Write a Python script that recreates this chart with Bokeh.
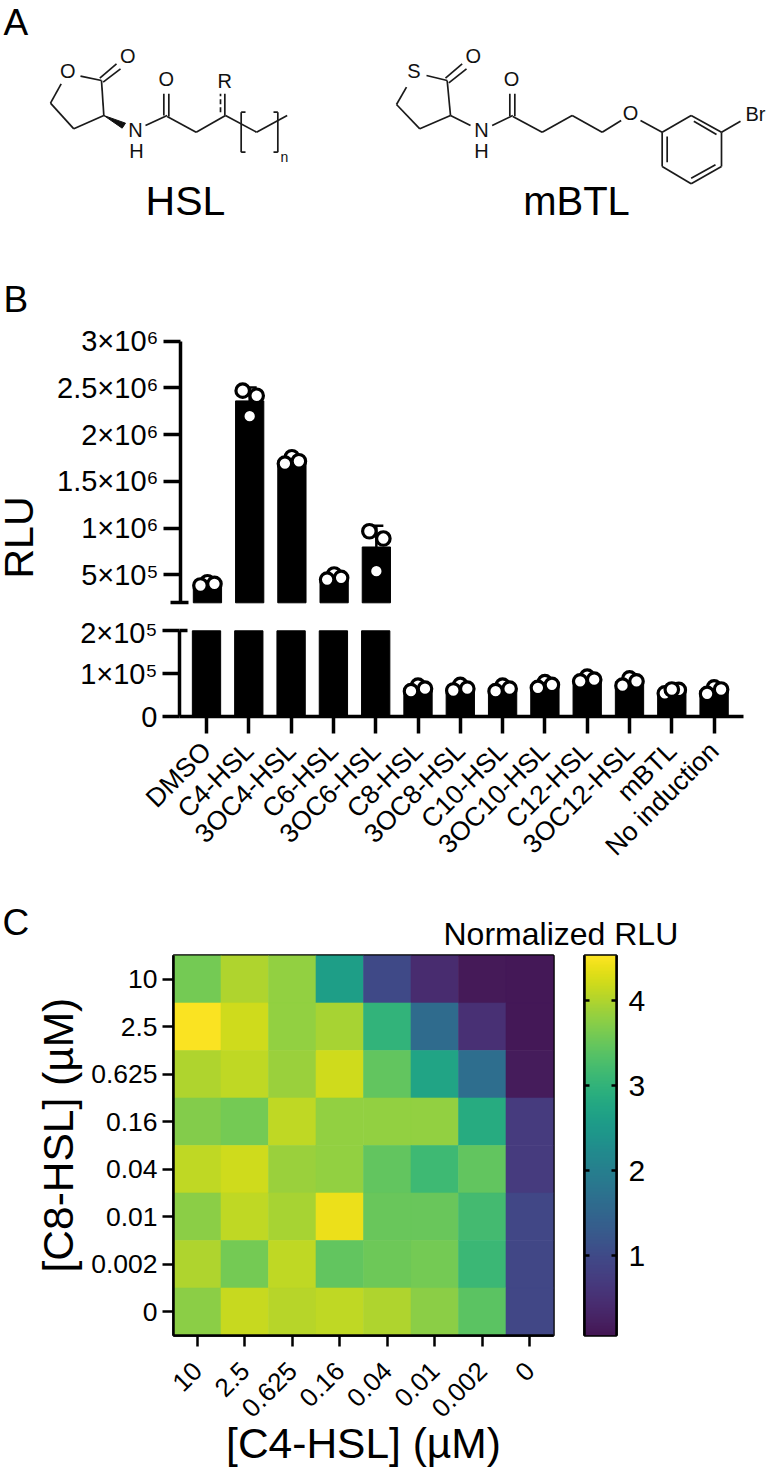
import numpy as np
from bokeh.plotting import figure
from bokeh.layouts import column, row
from bokeh.models import (Range1d, Label, LinearAxis, FixedTicker, LinearColorMapper,
                          ColumnDataSource, Title)
from bokeh.transform import transform
from bokeh.palettes import Viridis256
from bokeh.embed import file_html
from bokeh.resources import INLINE

FONT = "Liberation Sans"

# ---------- data ----------
inducers = ["DMSO", "C4-HSL", "3OC4-HSL", "C6-HSL", "3OC6-HSL", "C8-HSL", "3OC8-HSL",
            "C10-HSL", "3OC10-HSL", "C12-HSL", "3OC12-HSL", "mBTL", "No induction"]
rep_left = [3.85e5, 2.47e6, 1.69e6, 4.49e5, 9.66e5, 5.9e4, 6.07e4, 5.9e4, 6.7e4, 8.2e4, 7.2e4, 5.4e4, 5.3e4]
rep_mid = [4.2e5, 2.197e6, 1.758e6, 5.03e5, 5.38e5, 7.2e4, 7.4e4, 7.2e4, 8.0e4, 9.3e4, 8.9e4, 6.3e4, 6.8e4]
rep_right = [4.03e5, 2.416e6, 1.715e6, 4.67e5, 8.88e5, 6.5e4, 6.5e4, 6.5e4, 7.4e4, 8.6e4, 8.2e4, 6.2e4, 6.3e4]
upper_ticks = [500000, 1000000, 1500000, 2000000, 2500000, 3000000]
upper_tick_labels = ["5×10⁵", "1×10⁶", "1.5×10⁶", "2×10⁶", "2.5×10⁶", "3×10⁶"]
lower_ticks = [0, 100000, 200000]
lower_tick_labels = ["0", "1×10⁵", "2×10⁵"]
break_low = 200000

conc_c4 = ["10", "2.5", "0.625", "0.16", "0.04", "0.01", "0.002", "0"]
conc_c8 = ["10", "2.5", "0.625", "0.16", "0.04", "0.01", "0.002", "0"]
row_10 = [3.60, 4.00, 3.80, 2.60, 1.00, 0.42, 0.12, 0.10]
row_2p5 = [4.50, 4.20, 3.80, 3.95, 3.00, 1.60, 0.50, 0.10]
row_0p625 = [4.00, 4.10, 3.85, 4.20, 3.45, 2.70, 1.65, 0.15]
row_0p16 = [3.70, 3.60, 4.10, 3.80, 3.80, 3.80, 2.85, 0.70]
row_0p04 = [4.10, 4.20, 3.85, 3.80, 3.45, 3.15, 3.45, 0.70]
row_0p01 = [3.75, 4.10, 3.95, 4.40, 3.50, 3.50, 3.20, 0.95]
row_0p002 = [4.00, 3.60, 4.10, 3.45, 3.55, 3.60, 3.10, 0.95]
row_0 = [3.75, 4.15, 4.05, 4.10, 4.00, 3.75, 3.40, 0.95]
heat_rows = [row_10, row_2p5, row_0p625, row_0p16, row_0p04, row_0p01, row_0p002, row_0]
cbar_low, cbar_high = 0.06, 4.53
cbar_ticks = [1, 2, 3, 4]
cbar_tick_labels = ["1", "2", "3", "4"]

W = 770


def clean(p):
    p.grid.visible = False
    p.outline_line_color = None
    p.background_fill_color = None
    p.border_fill_color = None
    p.frame_align = False


def letter(text, x, y, size, **kw):
    kw.setdefault("text_baseline", "middle")
    return Label(x=x, y=y, text=text, text_font=FONT, text_font_size=size, text_color="black", **kw)


# ---------- panel A: structures (page pixels); also carries the letter B ----------
pa = figure(width=W, height=320, x_range=Range1d(0, 770), y_range=Range1d(320, 0),
            x_axis_type=None, y_axis_type=None, toolbar_location=None, output_backend="svg",
            min_border=0)
clean(pa)


def bonds(ox, oy, segs):
    return ([[ox + s[0] / 3, ox + s[2] / 3] for s in segs],
            [[oy + s[1] / 3, oy + s[3] / 3] for s in segs])


hsl_bonds = [
    (213, 150, 150, 137), (92, 160, 60, 218), (60, 218, 130, 295), (130, 295, 220, 255), (220, 255, 213, 150),
    (208, 143, 258, 100), (218, 155, 270, 115),
    (345, 285, 410, 255), (400, 255, 400, 190), (415, 258, 415, 190),
    (410, 258, 497, 305), (497, 305, 585, 255), (585, 255, 678, 305), (678, 305, 770, 255),
    (583, 255, 583, 190),
    (632, 245, 632, 365), (632, 245, 645, 245), (632, 365, 645, 365),
    (742, 245, 742, 365), (742, 245, 729, 245), (742, 365, 729, 365),
]
xs, ys = bonds(30, 30, hsl_bonds)
pa.multi_line(xs, ys, line_color="#1a1a1a", line_width=1.7)
xs, ys = bonds(30, 30, [(570, 245, 570, 190)])
pa.multi_line(xs, ys, line_color="#1a1a1a", line_width=1.7, line_dash="5 3")
pa.patch([30 + 220 / 3, 30 + 275 / 3, 30 + 285 / 3], [30 + 255 / 3, 30 + 293 / 3, 30 + 278 / 3], color="#111111")

mbtl_bonds = [
    (200, 150, 138, 135), (78, 170, 48, 222), (48, 222, 118, 295), (118, 295, 210, 255), (210, 255, 200, 150),
    (195, 143, 245, 100), (205, 157, 258, 115),
    (210, 255, 270, 285), (335, 285, 397, 255), (388, 257, 388, 190), (403, 257, 403, 190),
    (397, 258, 485, 305), (485, 305, 575, 255), (575, 255, 665, 305), (665, 305, 722, 270),
    (780, 270, 845, 305),
    (845, 305, 932, 255), (932, 255, 1023, 305), (1023, 305, 1023, 408), (1023, 408, 932, 460),
    (932, 460, 845, 408), (845, 408, 845, 305),
    (860, 318, 860, 395), (940, 272, 1008, 312), (932, 443, 1005, 403),
    (1023, 305, 1080, 272),
]
xs, ys = bonds(380, 30, mbtl_bonds)
pa.multi_line(xs, ys, line_color="#1a1a1a", line_width=1.7)

atoms = [("O", 30 + 112 / 3, 30 + 122 / 3, 20), ("O", 30 + 292 / 3, 30 + 75 / 3, 20), ("N", 30 + 315 / 3, 30 + 298 / 3, 20),
         ("H", 30 + 318 / 3, 30 + 360 / 3, 20), ("O", 30 + 407 / 3, 30 + 145 / 3, 20), ("R", 30 + 583 / 3, 30 + 150 / 3, 20),
         ("n", 30 + 762 / 3, 30 + 378 / 3, 14),
         ("S", 380 + 100 / 3, 30 + 122 / 3, 20), ("O", 380 + 278 / 3, 30 + 75 / 3, 20), ("N", 380 + 303 / 3, 30 + 298 / 3, 20),
         ("H", 380 + 303 / 3, 30 + 360 / 3, 20), ("O", 380 + 393 / 3, 30 + 145 / 3, 20), ("O", 380 + 750 / 3, 30 + 247 / 3, 20),
         ("Br", 380 + 1125 / 3, 30 + 250 / 3, 20)]
for t_, x, y, s in atoms:
    pa.add_layout(Label(x=x, y=y, text=t_, text_font=FONT, text_font_size=f"{s}px", text_color="#111111",
                        text_align="center", text_baseline="middle"))
pa.add_layout(letter("HSL", 185, 200, "41px", text_align="center"))
pa.add_layout(letter("mBTL", 576, 200, "40px", text_align="center"))
pa.add_layout(letter("A", 3, 22, "37px"))
pa.add_layout(letter("B", 3, 299, "37px"))

# ---------- panel B: broken axis bar chart ----------
n = len(inducers)
idx = np.arange(n)
left, mid, right = np.array(rep_left), np.array(rep_mid), np.array(rep_right)
reps = np.vstack([left, mid, right])
means = reps.mean(axis=0)
sds = reps.std(axis=0, ddof=1)

SP = 42.3   # px per bar slot
X0 = 206.0  # page x of first bar
axis_x = (179 - X0) / SP
xr = (axis_x, (745 - X0) / SP)
jit = 7 / SP
bar_w = 28.3 / SP


def add_points(p, sel):
    # middle replicate below the others, except mBTL, where it lies on top
    mb = inducers.index("mBTL")
    under = [i for i in sel if i != mb]
    kw = dict(marker="circle", size=13.5, fill_color="white", line_color="black", line_width=3.2)
    p.scatter(idx[under], mid[under], **kw)
    p.scatter(idx[sel] - jit, left[sel], **kw)
    p.scatter(idx[sel] + jit, right[sel], **kw)
    if mb in sel:
        p.scatter([idx[mb]], [mid[mb]], **kw)


def style_y(ax, over, cap_out):
    ax.major_label_overrides = over
    ax.major_label_text_font = FONT
    ax.major_label_text_font_size = "29px"
    ax.major_label_text_color = "black"
    ax.major_label_standoff = 5
    ax.major_tick_line_width = 3.5
    ax.major_tick_line_color = "black"
    ax.major_tick_out = 17
    ax.major_tick_in = 0
    # the short bar through the axis where it is broken
    ax.minor_tick_line_color = "black"
    ax.minor_tick_line_width = 3.5
    ax.minor_tick_in = 8
    ax.minor_tick_out = cap_out
    ax.axis_line_width = 3.5
    ax.axis_line_color = "black"


# upper segment: 3e6 at page y 340.7, 2e5 at page y 602.3
K_UP = (3e6 - 2e5) / (602.3 - 340.7)
up_y = lambda page_y: 2e5 + (602.3 - page_y) * K_UP
UP_LEFT = 19  # the figure starts this far off the page, so that its RLU title can reach the page edge
pu = figure(width=W, height=296, frame_height=275, x_range=Range1d(*xr), y_range=Range1d(up_y(610), up_y(335)),
            x_axis_type=None, y_axis_type=None, toolbar_location=None, output_backend="svg",
            min_border_left=179 + UP_LEFT, min_border_right=6, min_border_top=15, min_border_bottom=6,
            margin=(0, 0, 0, -UP_LEFT))
clean(pu)
sel_u = [i for i in idx if means[i] > break_low]
pu.vbar(x=idx[sel_u], top=means[sel_u], bottom=break_low, width=bar_w, color="black")
pu.segment(idx[sel_u], means[sel_u], idx[sel_u], (means + sds)[sel_u], line_color="black", line_width=2.5)
pu.scatter(idx[sel_u], (means + sds)[sel_u], marker="dash", size=14, line_color="black", line_width=2.5)
add_points(pu, sel_u)
ay = LinearAxis(bounds=(break_low, 3000000), ticker=FixedTicker(ticks=upper_ticks, minor_ticks=[break_low]))
style_y(ay, dict(zip(upper_ticks, upper_tick_labels)), 10)
pu.add_layout(ay, "left")
pu.add_layout(Title(text="RLU", align="left", offset=32, standoff=25, text_font=FONT, text_font_size="41px",
                    text_font_style="normal", text_color="black"), "left")

# lower segment: 2e5 at page y 630.3, 0 at page y 716
K_LO = 2e5 / (716 - 630.3)
pl = figure(width=W, height=284, frame_height=92, x_range=Range1d(*xr), y_range=Range1d(0, (716 - 624) * K_LO),
            y_axis_type=None, toolbar_location=None, output_backend="svg",
            min_border_left=179, min_border_right=25, min_border_top=8, min_border_bottom=184)
clean(pl)
pl.vbar(x=idx, top=np.minimum(means, break_low), bottom=0, width=bar_w, color="black")
sel_l = [i for i in idx if means[i] <= break_low]
pl.segment(idx[sel_l], means[sel_l], idx[sel_l], (means + sds)[sel_l], line_color="black", line_width=2.5)
add_points(pl, sel_l)
ay2 = LinearAxis(bounds=(0, break_low), ticker=FixedTicker(ticks=lower_ticks, minor_ticks=[break_low]))
style_y(ay2, dict(zip(lower_ticks, lower_tick_labels)), 0)
pl.add_layout(ay2, "left")
ax = pl.xaxis[0]
ax.bounds = (axis_x, (743 - X0) / SP)
ax.ticker = FixedTicker(ticks=list(range(n)))
ax.major_label_overrides = {i: s for i, s in enumerate(inducers)}
ax.major_label_orientation = np.pi / 4
ax.major_label_text_font = FONT
ax.major_label_text_font_size = "26.5px"
ax.major_label_text_color = "black"
ax.major_label_standoff = 13
ax.major_tick_line_width = 3.5
ax.major_tick_line_color = "black"
ax.major_tick_out = 17
ax.major_tick_in = 0
ax.minor_tick_line_color = None
ax.axis_line_width = 3.5
ax.axis_line_color = "black"

# ---------- panel C: heading strip, heatmap and colour scale ----------
strip = figure(width=W, height=50, x_range=Range1d(0, 770), y_range=Range1d(950, 900),
               x_axis_type=None, y_axis_type=None, toolbar_location=None, output_backend="svg", min_border=0)
clean(strip)
strip.add_layout(letter("C", 2, 922, "37px"))
strip.add_layout(letter("Normalized RLU", 443, 933, "32px"))

# viridis as printed in the reference: a slightly lifted dark end and muted greens
t = np.linspace(0, 1, 256)
g_shift = np.interp(t, [0, 0.2, 0.43, 0.66, 0.88, 1], [22, 5, 0, -2, -8, -2])
palette = []
for c, dg in zip(Viridis256, g_shift):
    r_, g_, b_ = int(c[1:3], 16), int(c[3:5], 16), int(c[5:7], 16)
    palette.append("#%02x%02x%02x" % (r_, int(g_ + dg), b_))

mapper = LinearColorMapper(palette=palette, low=cbar_low, high=cbar_high)
hx, hy, hv = [], [], []
for r, vals in enumerate(heat_rows):
    for c, v in enumerate(vals):
        hx.append(c + 0.5)
        hy.append(7.5 - r)
        hv.append(v)
src = ColumnDataSource(dict(x=hx, y=hy, v=hv))
pc = figure(width=560, height=524, frame_width=380, frame_height=380, x_range=Range1d(0, 8), y_range=Range1d(0, 8),
            toolbar_location=None, output_backend="svg",
            min_border_left=173, min_border_right=7, min_border_top=5, min_border_bottom=139)
clean(pc)
pc.outline_line_color = "black"
pc.outline_line_width = 2.5
pc.rect(x="x", y="y", width=1, height=1, source=src, fill_color=transform("v", mapper),
        line_color=transform("v", mapper), line_width=0.6)
tick_pos = [i + 0.5 for i in range(8)]
for a, labels in ((pc.xaxis[0], conc_c4), (pc.yaxis[0], conc_c8[::-1])):
    a.ticker = FixedTicker(ticks=tick_pos)
    a.major_label_overrides = dict(zip(tick_pos, labels))
    a.major_label_text_font = FONT
    a.major_label_text_color = "black"
    a.major_tick_line_width = 2.5
    a.major_tick_line_color = "black"
    a.major_tick_out = 11
    a.major_tick_in = 0
    a.minor_tick_line_color = None
    a.axis_line_width = 2.5
    a.axis_line_color = "black"
pc.yaxis[0].major_label_text_font_size = "26.5px"
pc.yaxis[0].major_label_standoff = 5
pc.add_layout(Title(text="[C8-HSL] (µM)", align="left", offset=63, standoff=13, text_font=FONT, text_font_size="42.5px",
                    text_font_style="normal", text_color="black"), "left")
ax = pc.xaxis[0]
ax.major_label_text_font_size = "26px"
ax.major_label_orientation = np.pi / 4
ax.major_label_standoff = 20
ax.axis_label = "[C4-HSL] (µM)"
ax.axis_label_text_font = FONT
ax.axis_label_text_font_style = "normal"
ax.axis_label_text_font_size = "42.5px"
ax.axis_label_text_color = "black"
ax.axis_label_standoff = -8

# colour scale: its own narrow figure with ticks on both long edges
cf = figure(width=210, height=524, frame_width=32, frame_height=380, x_range=Range1d(0, 1),
            y_range=Range1d(cbar_low, cbar_high), x_axis_type=None, y_axis_type=None,
            toolbar_location=None, output_backend="svg",
            min_border_left=24, min_border_right=154, min_border_top=5, min_border_bottom=139)
clean(cf)
cf.outline_line_color = "black"
cf.outline_line_width = 2.5
gradient = np.linspace(cbar_low, cbar_high, 256).reshape(-1, 1)
cf.image(image=[gradient], x=0, y=cbar_low, dw=1, dh=cbar_high - cbar_low, color_mapper=mapper)
for side, names in (("right", cbar_tick_labels), ("left", [" "] * len(cbar_ticks))):
    a = LinearAxis(ticker=FixedTicker(ticks=cbar_ticks), major_label_overrides=dict(zip(cbar_ticks, names)),
                   major_label_text_font=FONT, major_label_text_color="black",
                   major_label_text_font_size="30px" if side == "right" else "1px", major_label_standoff=12,
                   major_tick_in=5, major_tick_out=0, major_tick_line_width=2.5, major_tick_line_color="black",
                   minor_tick_line_color=None, axis_line_width=2.5, axis_line_color="black")
    cf.add_layout(a, side)

layout = column(pa, pu, pl, strip, row(pc, cf, spacing=0), spacing=0)
open("out.html", "w").write(file_html(layout, INLINE))
